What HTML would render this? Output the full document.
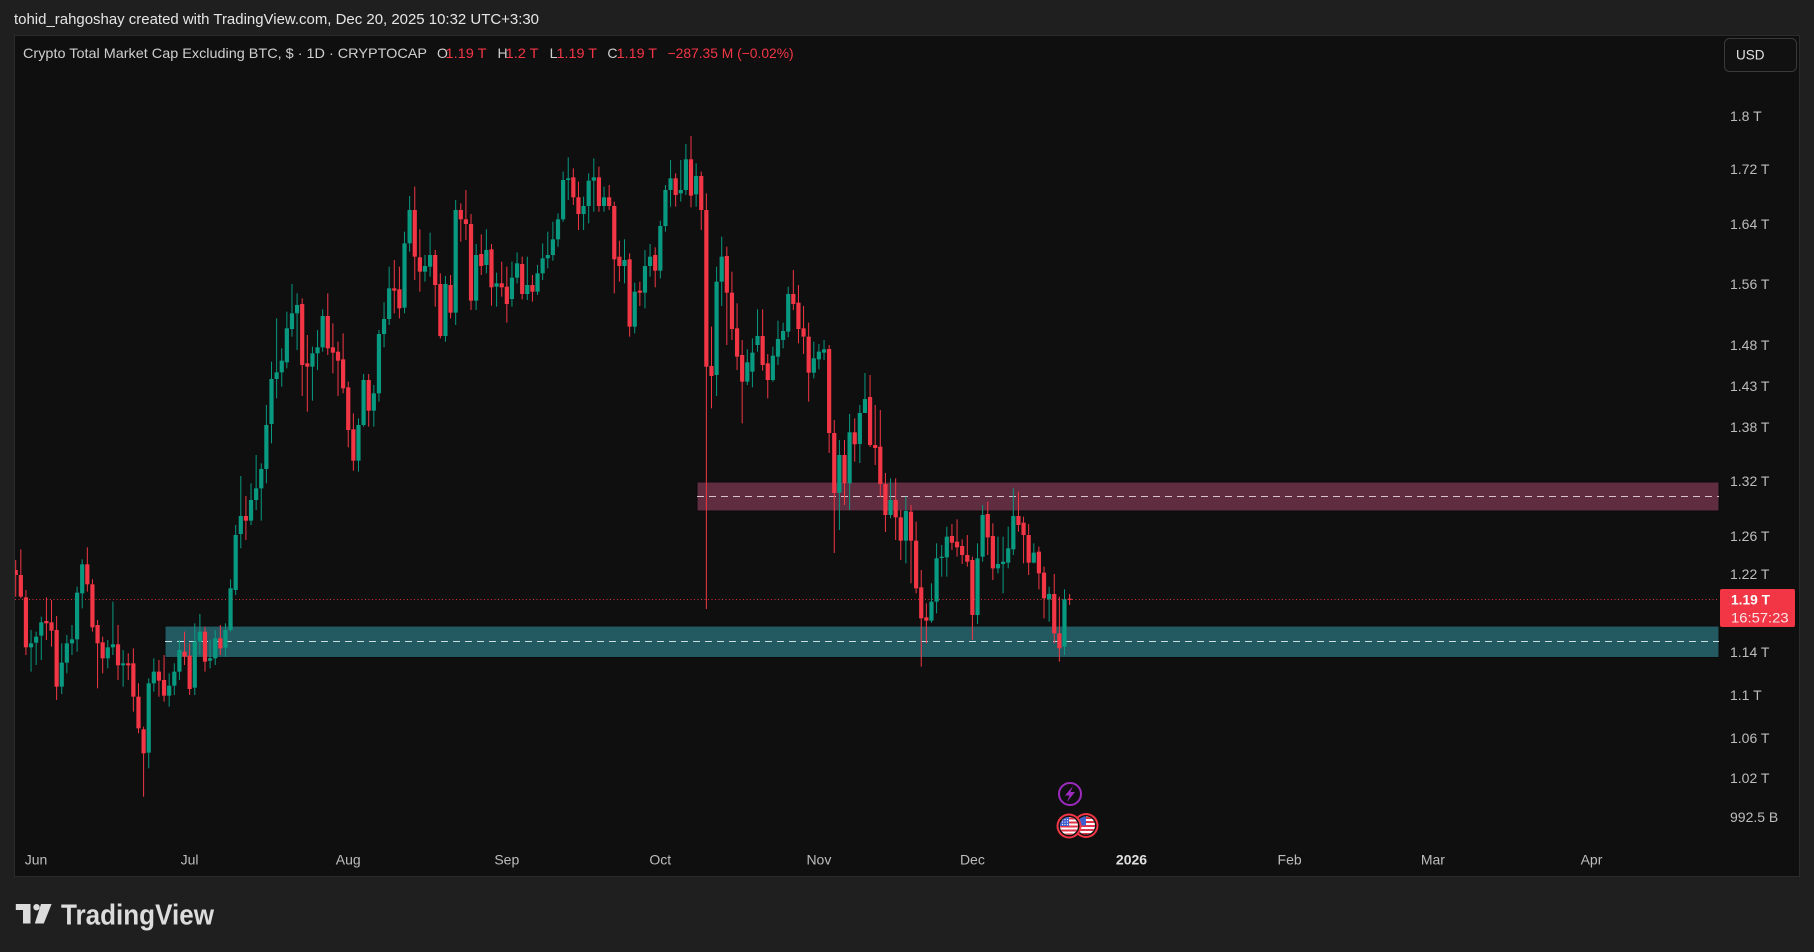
<!DOCTYPE html>
<html>
<head>
<meta charset="utf-8">
<style>
html,body{margin:0;padding:0;background:#1f1f1f;}
body{width:1814px;height:952px;overflow:hidden;}
svg{display:block;}
text{font-family:"Liberation Sans",sans-serif;}
</style>
</head>
<body>
<svg id="c" xmlns="http://www.w3.org/2000/svg" width="1814" height="952" viewBox="0 0 1814 952">
<defs>
  <clipPath id="plot"><rect x="15" y="36" width="1703" height="800"/></clipPath>
  <clipPath id="f1"><circle cx="1086" cy="825.5" r="9"/></clipPath>
  <clipPath id="f2"><circle cx="1069" cy="826" r="9"/></clipPath>
</defs>
<rect width="1814" height="952" fill="#1f1f1f"/>
<text x="14" y="24" font-size="15" fill="#e6e6e6" textLength="525" lengthAdjust="spacingAndGlyphs">tohid_rahgoshay created with TradingView.com, Dec 20, 2025 10:32 UTC+3:30</text>
<rect x="14.5" y="35.5" width="1785" height="841" fill="#0f0f0f" stroke="#2b2b2b" stroke-width="1"/>

<!-- legend -->
<g font-size="14">
<text x="23" y="58" fill="#cfcfcf" textLength="404" lengthAdjust="spacingAndGlyphs">Crypto Total Market Cap Excluding BTC, $ · 1D · CRYPTOCAP</text>
<text x="437" y="58" fill="#cfcfcf">O</text>
<text x="445.5" y="58" fill="#f23645" textLength="41" lengthAdjust="spacingAndGlyphs">1.19 T</text>
<text x="497.5" y="58" fill="#cfcfcf">H</text>
<text x="505.6" y="58" fill="#f23645" textLength="33" lengthAdjust="spacingAndGlyphs">1.2 T</text>
<text x="549.6" y="58" fill="#cfcfcf">L</text>
<text x="556.5" y="58" fill="#f23645" textLength="40.5" lengthAdjust="spacingAndGlyphs">1.19 T</text>
<text x="607.4" y="58" fill="#cfcfcf">C</text>
<text x="616.7" y="58" fill="#f23645" textLength="40.3" lengthAdjust="spacingAndGlyphs">1.19 T</text>
<text x="667.6" y="58" fill="#f23645" textLength="126" lengthAdjust="spacingAndGlyphs">−287.35 M (−0.02%)</text>
</g>

<!-- USD button -->
<rect x="1724.5" y="38.5" width="72" height="33" rx="5" fill="#111111" stroke="#3a3a3a"/>
<text x="1736" y="59.5" font-size="13.5" fill="#e0e0e0">USD</text>

<!-- zones -->
<g id="zones">
<rect x="697" y="482" width="1022" height="29" fill="#602c40" stroke="#0a0a0a" stroke-width="1"/>
<line x1="697" y1="496.5" x2="1719" y2="496.5" stroke="#d9c3cb" stroke-width="1" stroke-dasharray="7 5"/>
<rect x="165" y="626" width="1554" height="31.5" fill="#235a62" stroke="#0a0a0a" stroke-width="1"/>
<line x1="165" y1="641.5" x2="1719" y2="641.5" stroke="#c9dde0" stroke-width="1" stroke-dasharray="7 5"/>
</g>

<!-- price line -->
<line x1="15" y1="599.5" x2="1719" y2="599.5" stroke="#f23645" stroke-width="1" stroke-dasharray="1 2.5" opacity="0.85"/>

<g id="candles" clip-path="url(#plot)"></g>

<!-- price axis -->
<g font-size="14" fill="#bdbdbd">
<text x="1730" y="121">1.8 T</text>
<text x="1730" y="174">1.72 T</text>
<text x="1730" y="229">1.64 T</text>
<text x="1730" y="289">1.56 T</text>
<text x="1730" y="350">1.48 T</text>
<text x="1730" y="391">1.43 T</text>
<text x="1730" y="432">1.38 T</text>
<text x="1730" y="486">1.32 T</text>
<text x="1730" y="541">1.26 T</text>
<text x="1730" y="579">1.22 T</text>
<text x="1730" y="657">1.14 T</text>
<text x="1730" y="700">1.1 T</text>
<text x="1730" y="743">1.06 T</text>
<text x="1730" y="783">1.02 T</text>
<text x="1730" y="822">992.5 B</text>
</g>

<!-- current price label -->
<rect x="1720" y="589" width="75" height="38" rx="2" fill="#f23645"/>
<text x="1731" y="604.5" font-size="13.5" font-weight="bold" fill="#ffffff" textLength="39" lengthAdjust="spacingAndGlyphs">1.19 T</text>
<text x="1731" y="622.5" font-size="13.5" fill="#ffe3e6" textLength="57.6" lengthAdjust="spacingAndGlyphs">16:57:23</text>

<!-- time axis -->
<g font-size="14" fill="#bdbdbd" text-anchor="middle">
<text x="36" y="864.5">Jun</text>
<text x="189.6" y="864.5">Jul</text>
<text x="348.2" y="864.5">Aug</text>
<text x="506.8" y="864.5">Sep</text>
<text x="660.3" y="864.5">Oct</text>
<text x="818.9" y="864.5">Nov</text>
<text x="972.4" y="864.5">Dec</text>
<text x="1131.5" y="864.5" font-weight="bold" fill="#e0e0e0">2026</text>
<text x="1289.6" y="864.5">Feb</text>
<text x="1432.9" y="864.5">Mar</text>
<text x="1591.5" y="864.5">Apr</text>
</g>

<!-- event icons -->
<circle cx="1070" cy="794" r="11" fill="#0f0f0f" stroke="#9c2bbd" stroke-width="2"/>
<polygon points="1073,786 1065,795.5 1069.5,795.5 1067,802 1075,792 1070.5,792" fill="#9c2bbd"/>

<g>
<circle cx="1086" cy="825.5" r="12.5" fill="#f23645"/>
<circle cx="1086" cy="825.5" r="10.5" fill="#111"/>
<g clip-path="url(#f1)">
  <rect x="1077" y="816.5" width="18" height="18" fill="#ffffff"/>
  <rect x="1077" y="817" width="18" height="2" fill="#e0344a"/>
  <rect x="1077" y="821" width="18" height="2" fill="#e0344a"/>
  <rect x="1077" y="825" width="18" height="2" fill="#e0344a"/>
  <rect x="1077" y="829" width="18" height="2" fill="#e0344a"/>
  <rect x="1077" y="833" width="18" height="2" fill="#e0344a"/>
  <rect x="1077" y="816.5" width="9" height="9" fill="#3d5fcf"/>
</g>
</g>
<g>
<circle cx="1069" cy="826" r="12.5" fill="#f23645"/>
<circle cx="1069" cy="826" r="10.5" fill="#111"/>
<g clip-path="url(#f2)">
  <rect x="1060" y="817" width="18" height="18" fill="#ffffff"/>
  <rect x="1060" y="817.5" width="18" height="2" fill="#e0344a"/>
  <rect x="1060" y="821.5" width="18" height="2" fill="#e0344a"/>
  <rect x="1060" y="825.5" width="18" height="2" fill="#e0344a"/>
  <rect x="1060" y="829.5" width="18" height="2" fill="#e0344a"/>
  <rect x="1060" y="833.5" width="18" height="2" fill="#e0344a"/>
  <rect x="1060" y="817" width="9" height="9" fill="#3d5fcf"/>
  <circle cx="1062.5" cy="819.5" r="0.6" fill="#fff"/><circle cx="1065" cy="819.5" r="0.6" fill="#fff"/><circle cx="1067.5" cy="819.5" r="0.6" fill="#fff"/>
  <circle cx="1062.5" cy="822" r="0.6" fill="#fff"/><circle cx="1065" cy="822" r="0.6" fill="#fff"/><circle cx="1067.5" cy="822" r="0.6" fill="#fff"/>
  <circle cx="1062.5" cy="824.5" r="0.6" fill="#fff"/><circle cx="1065" cy="824.5" r="0.6" fill="#fff"/><circle cx="1067.5" cy="824.5" r="0.6" fill="#fff"/>
</g>
</g>

<!-- TradingView logo -->
<g fill="#dcdcdc">
<rect x="15.8" y="904" width="14.5" height="6"/>
<rect x="23" y="904" width="7.5" height="19.5"/>
<circle cx="36.5" cy="907.2" r="3.2"/>
<polygon points="41,904 51.6,904 43.8,923.5 34.8,923.5"/>
<text x="61" y="924.5" font-size="29" font-weight="bold" textLength="153" lengthAdjust="spacingAndGlyphs">TradingView</text>
</g>
</svg>

<script>
(function(){
var segs=[
[540,3,[
[0,90,105,60,170],[0,105,170,28,175],[0,172,322,150,345],[1,310,322,270,395],[1,290,308,275,375],
[1,247,287,230,360],[0,243,250,172,300],[0,247,272,180,320],[0,270,440,228,480],[1,368,440,310,462],
[1,310,368,285,400],[1,298,310,255,345],[1,158,298,140,335],[1,73,160,58,205],[0,73,133,22,155],
[0,133,262,118,275],[0,255,310,240,445],[0,307,355,290,400],[1,322,355,300,385],[1,313,322,185,345],
[0,313,376,255,420],[1,370,376,330,440],[0,370,376,340,420],[0,370,470,325,515],[0,470,565,430,580],
[0,568,640,560,770],[1,430,638,415,685],[1,395,430,355,455],[0,395,422,360,470],[0,420,467,345,485],
[1,437,467,400,500],[1,395,437,370,465],[1,330,395,300,420],[0,335,350,275,375],[0,347,447,310,465],
[1,305,443,250,465],[1,275,305,222,345],[0,275,365,260,395],[1,355,362,300,385],[1,295,355,270,375],
[0,295,325,255,345],[1,270,323,250,350],[1,145,270,118,275]
]],
[270,3,[
[1,795,960,765,975],[1,738,792,618,835],[0,738,752,678,810],[1,690,752,640,765],[1,655,690,555,720],
[1,597,655,580,752],[1,465,597,405,640],[1,327,462,275,520],[1,307,327,145,385],[1,272,307,235,350],
[1,175,277,125,295],[1,130,177,42,200],[1,105,130,70,240],[0,102,285,85,378],[0,280,290,195,425],
[1,250,290,230,392],[1,232,250,180,300],[1,138,232,118,245],[0,138,235,70,255],[0,232,248,160,310],
[0,245,272,215,378],[0,268,355,190,370],[0,352,480,335,532],[0,478,572,430,602],[1,465,572,445,605],
[1,330,465,312,470],[0,330,422,312,470],[1,370,422,345,470],[1,192,370,180,395],[1,147,192,97,232],
[1,55,147,-10,165],[0,55,62,-30,130],[0,58,115,-10,145]
]],
[140,3,[
[1,310,503,275,520],[1,210,310,168,335],[0,210,350,140,420],[0,352,395,268,455],[1,378,395,345,425],
[1,345,380,278,410],[0,345,435,330,500],[0,432,588,400,595],[1,432,588,408,605],[0,435,518,405,535],
[1,210,518,180,555],[0,210,238,190,305],[0,238,252,150,300],[0,252,482,222,510],[1,345,482,312,510],
[0,342,378,283,405],[1,330,375,268,400],[0,328,442,312,497],[1,430,440,398,500],[0,430,442,365,470],
[0,440,492,380,548],[1,413,477,365,500],[1,370,413,337,430],[0,372,462,350,478],[1,435,462,350,480],
[0,435,455,405,485],[1,400,455,375,465],[1,355,400,310,420],[1,345,355,275,385],[1,298,345,245,362],
[1,238,298,220,320],[1,120,238,95,245],[1,115,120,52,180],[0,112,172,85,195],[0,172,222,125,270],
[1,198,222,170,270],[1,122,198,100,250],[1,112,122,55,215],[0,112,198,80,215],[1,172,198,140,215],
[0,172,198,135,210],[0,198,358,185,460],[0,350,378,302,425],[1,360,378,298,430],[0,358,560,340,590],
[1,455,560,428,580],[0,452,458,425,498],[1,378,458,330,505],[1,350,378,312,410],[0,345,392,322,442],
[1,258,392,242,415],[1,150,258,135,275]
]],
[130,3,[
[1,145,180,90,230],[0,145,195,130,230],[1,180,190,90,215],[1,88,180,42,195],[0,88,197,18,232],
[1,138,193,100,230],[0,138,240,125,300],[0,240,710,190,1437],[0,708,738,590,835],[1,455,735,410,798],
[1,380,455,320,528],[0,378,488,350,645],[0,488,597,425,630],[0,595,680,520,720],[0,675,755,630,880],
[1,697,755,658,765],[1,668,725,625,772],[1,618,645,538,665],[0,618,705,538,722],[0,700,750,672,805],
[1,677,750,650,755],[1,627,680,572,705],[1,603,630,578,655],[1,492,605,470,622],[0,492,522,420,540],
[0,518,597,465,640],[0,595,620,528,672],[0,620,728,578,815],[1,685,728,635,745],[1,665,688,642,718],
[1,658,668,630,690]
]],
[0,1,[
[0,349,433,345,453],[0,433,493,420,553],[1,455,492.7,440,530],[0,455,483.3,440,505],[1,432.3,483.3,414,510],
[0,432.3,444.3,418.3,461.7],[1,413,444,405,463],[1,399,413,373,412],[0,397,445,375,447],[0,445,448,405,465]
]],
[380,3,[
[0,200,312,90,351],[0,312,405,279,456],[1,360,405,295,415],[0,360,412,295,480],[0,412,482,390,540],
[1,393,482,350,550],[0,395,482,375,610],[0,482,625,425,640],[0,622,715,570,860],[0,712,722,670,790],
[1,665,722,610,728],[1,535,665,490,700],[1,530,534,495,590],[1,470,532,440,590],[0,468,488,432,510],
[0,485,502,418,530],[0,498,525,478,552],[0,525,545,465,560],[0,540,705,530,780],[1,535,705,490,732],
[1,405,530,375,545],[0,402,472,365,525],[0,468,565,430,600],[1,552,565,470,580],[1,545,552,470,640],
[1,505,548,440,565],[1,408,508,325,525],[0,408,435,335,455],[0,428,465,410,550],[0,465,548,432,585],
[1,518,548,490,550],[0,515,580,500,628],[0,578,655,560,715],[1,642,658,620,725],[0,642,760,582,790],
[0,760,805,650,845],[1,658,800,628,825],[0,656,660,642,675]
]]
];
var NS="http://www.w3.org/2000/svg";
var g=document.getElementById("candles");
var i=0;
function r(x,y,w,h,col){var e=document.createElementNS(NS,"rect");e.setAttribute("x",x.toFixed(2));e.setAttribute("y",y.toFixed(2));e.setAttribute("width",w);e.setAttribute("height",Math.max(h,1).toFixed(2));e.setAttribute("fill",col);g.appendChild(e);}
for(var s=0;s<segs.length;s++){
  var oy=segs[s][0],k=segs[s][1],L=segs[s][2];
  for(var j=0;j<L.length;j++){
    var c=L[j];
    var x=15.7+i*5.116; i++;
    var col=c[0]?"#089981":"#f23645";
    var bt=oy+c[1]/k,bb=oy+c[2]/k,wt=oy+c[3]/k,wb=oy+c[4]/k;
    r(x-0.5,wt,1,wb-wt,col);
    r(x-2.1,bt,4.2,bb-bt,col);
  }
}
})();
</script>
</body>
</html>
